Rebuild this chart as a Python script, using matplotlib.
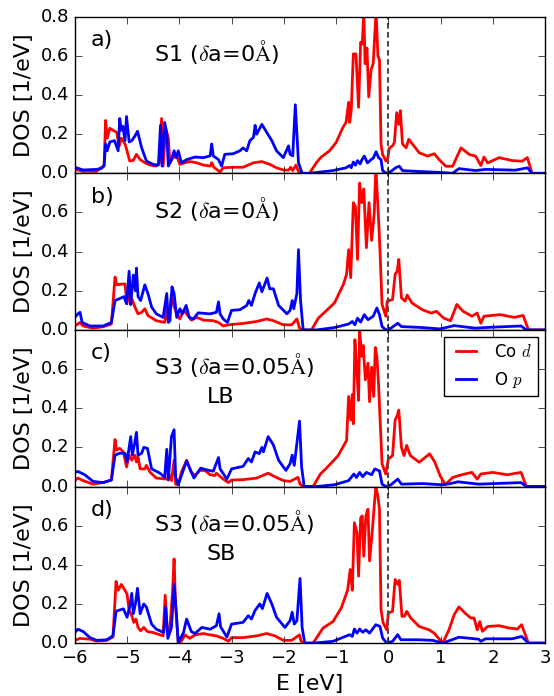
import matplotlib
matplotlib.use("Agg")
import matplotlib.pyplot as plt

# Projected DOS (energy in eV, DOS in 1/eV)

# a) S1
e_co_a = [-6.0, -5.84, -5.585, -5.49, -5.44, -5.41, -5.38, -5.33, -5.27, -5.2, -5.15, -5.11, -5.04, -5.0,
          -4.95, -4.88, -4.82, -4.75, -4.66, -4.56, -4.44, -4.38, -4.34, -4.31, -4.26, -4.21, -4.18, -4.12,
          -4.05, -3.99, -3.89, -3.8, -3.67, -3.54, -3.41, -3.38, -3.34, -3.22, -3.16, -2.97, -2.78, -2.58,
          -2.42, -2.26, -2.14, -2.01, -1.91, -1.87, -1.83, -1.77, -1.72, -1.63, -1.51, -1.38, -1.285, -1.13,
          -1.0, -0.87, -0.81, -0.76, -0.74, -0.71, -0.67, -0.62, -0.57, -0.53, -0.5, -0.47, -0.445, -0.41,
          -0.375, -0.33, -0.29, -0.235, -0.2, -0.17, -0.14, -0.11, -0.045, -0.01, 0.02, 0.08, 0.115, 0.16,
          0.2, 0.23, 0.27, 0.34, 0.39, 0.46, 0.59, 0.75, 0.88, 0.97, 1.1, 1.23, 1.39, 1.55, 1.67, 1.77,
          1.83, 1.9, 2.12, 2.37, 2.56, 2.66, 2.75, 3.0]
co_a = [0.02, 0.01, 0.01, 0.03, 0.04, 0.27, 0.18, 0.23, 0.22, 0.21, 0.14, 0.18, 0.15, 0.115,
        0.063, 0.066, 0.097, 0.07, 0.054, 0.042, 0.037, 0.054, 0.28, 0.037, 0.23, 0.18, 0.054, 0.08,
        0.089, 0.045, 0.054, 0.06, 0.054, 0.042, 0.037, 0.054, 0.031, 0.007, 0.028, 0.031, 0.031, 0.054,
        0.06, 0.045, 0.028, 0.017, 0.016, 0.031, 0.014, 0.042, 0.01, 0.0, 0.0, 0.053, 0.083, 0.114,
        0.157, 0.234, 0.26, 0.363, 0.26, 0.32, 0.61, 0.61, 0.337, 0.67, 0.66, 0.82, 0.56, 0.64,
        0.39, 0.53, 0.56, 0.83, 0.6, 0.58, 0.15, 0.096, 0.062, 0.08, 0.13, 0.14, 0.157, 0.31,
        0.25, 0.32, 0.15, 0.13, 0.174, 0.15, 0.105, 0.088, 0.1, 0.07, 0.036, 0.036, 0.13, 0.096, 0.088, 0.04,
        0.083, 0.053, 0.08, 0.065, 0.062, 0.08, 0.0, 0.0]
e_o_a = [-6.0, -5.84, -5.585, -5.49, -5.44, -5.41, -5.38, -5.33, -5.24, -5.17, -5.14, -5.11, -5.08, -5.04,
         -5.01, -4.96, -4.91, -4.85, -4.8, -4.72, -4.63, -4.5, -4.4, -4.36, -4.33, -4.28, -4.24, -4.21,
         -4.15, -4.1, -4.06, -4.02, -3.96, -3.86, -3.7, -3.54, -3.41, -3.38, -3.35, -3.25, -3.19, -3.13,
         -2.97, -2.84, -2.78, -2.71, -2.65, -2.58, -2.55, -2.52, -2.42, -2.33, -2.23, -2.14, -2.01, -1.91,
         -1.88, -1.83, -1.78, -1.72, -1.65, -1.51, -1.06, -0.81, -0.74, -0.71, -0.67, -0.63, -0.59, -0.54,
         -0.505, -0.46, -0.4, -0.33, -0.285, -0.235, -0.185, -0.14, -0.11, -0.045, 0.05, 0.15, 0.21, 0.27,
         0.53, 0.97, 1.23, 1.35, 1.67, 1.86, 2.43, 2.66, 2.75, 3.0]
o_a = [0.031, 0.017, 0.02, 0.025, 0.037, 0.15, 0.115, 0.16, 0.167, 0.115, 0.28, 0.22, 0.24, 0.167,
       0.29, 0.16, 0.167, 0.19, 0.215, 0.13, 0.063, 0.045, 0.042, 0.245, 0.037, 0.26, 0.2, 0.037,
       0.07, 0.115, 0.08, 0.115, 0.054, 0.07, 0.083, 0.08, 0.089, 0.15, 0.089, 0.07, 0.037, 0.097,
       0.1, 0.115, 0.13, 0.115, 0.167, 0.184, 0.245, 0.2, 0.25, 0.21, 0.167, 0.115, 0.08, 0.14,
       0.097, 0.089, 0.35, 0.054, 0.0, 0.0, 0.014, 0.028, 0.04, 0.028, 0.058, 0.041, 0.065, 0.048,
       0.07, 0.088, 0.053, 0.07, 0.079, 0.11, 0.079, 0.07, 0.014, 0.0, 0.01, 0.03, 0.036, 0.014,
       0.01, 0.005, 0.0, 0.024, 0.014, 0.02, 0.016, 0.028, 0.0, 0.0]

# b) S2
e_co_b = [-6.0, -5.9, -5.84, -5.65, -5.46, -5.3, -5.23, -5.2, -5.14, -5.04, -5.0, -4.97, -4.93, -4.91,
          -4.85, -4.79, -4.72, -4.66, -4.6, -4.44, -4.28, -4.24, -4.21, -4.15, -4.12, -4.05, -3.99, -3.92,
          -3.86, -3.77, -3.67, -3.54, -3.35, -3.25, -3.16, -3.06, -2.78, -2.52, -2.33, -2.2, -2.01, -1.85,
          -1.75, -1.7, -1.64, -1.47, -1.34, -1.2, -1.03, -0.86, -0.8, -0.76, -0.72, -0.67, -0.63, -0.59,
          -0.55, -0.51, -0.47, -0.42, -0.37, -0.32, -0.27, -0.24, -0.2, -0.17, -0.12, -0.05, -0.02, 0.08,
          0.13, 0.17, 0.2, 0.25, 0.32, 0.36, 0.45, 0.65, 0.82, 0.92, 1.06, 1.19, 1.31, 1.43, 1.6, 1.7,
          1.77, 1.83, 2.14, 2.41, 2.58, 2.68, 3.0]
co_b = [0.02, 0.038, 0.02, 0.009, 0.016, 0.03, 0.27, 0.23, 0.233, 0.235, 0.134, 0.2, 0.13, 0.16,
        0.117, 0.082, 0.09, 0.108, 0.073, 0.047, 0.038, 0.108, 0.045, 0.177, 0.134, 0.082, 0.056, 0.1,
        0.082, 0.05, 0.064, 0.05, 0.047, 0.038, 0.02, 0.026, 0.033, 0.043, 0.056, 0.047, 0.026, 0.026,
        0.056, 0.009, 0.0, 0.0, 0.06, 0.095, 0.138, 0.233, 0.284, 0.41, 0.267, 0.65, 0.63, 0.36,
        0.75, 0.65, 0.72, 0.42, 0.65, 0.457, 0.595, 0.83, 0.63, 0.47, 0.13, 0.07, 0.147, 0.155,
        0.284, 0.3, 0.36, 0.164, 0.147, 0.178, 0.138, 0.103, 0.086, 0.095, 0.06, 0.047, 0.13, 0.095, 0.07, 0.086,
        0.034, 0.07, 0.078, 0.064, 0.074, 0.0, 0.0]
e_o_b = [-6.0, -5.94, -5.9, -5.86, -5.71, -5.46, -5.3, -5.23, -5.14, -5.06, -5.01, -4.96, -4.93, -4.88,
         -4.84, -4.82, -4.79, -4.74, -4.66, -4.6, -4.53, -4.44, -4.31, -4.24, -4.21, -4.18, -4.14, -4.1,
         -4.05, -3.99, -3.94, -3.87, -3.81, -3.73, -3.64, -3.41, -3.29, -3.25, -3.22, -3.16, -3.08, -3.0,
         -2.84, -2.71, -2.67, -2.62, -2.55, -2.47, -2.42, -2.32, -2.27, -2.2, -2.1, -1.94, -1.88, -1.84,
         -1.81, -1.75, -1.72, -1.68, -1.63, -1.37, -1.03, -0.76, -0.69, -0.64, -0.59, -0.53, -0.46, -0.39,
         -0.29, -0.22, -0.17, -0.12, -0.05, 0.05, 0.18, 0.25, 0.65, 0.99, 1.26, 1.66, 2.0, 2.54, 2.64, 3.0]
o_b = [0.064, 0.082, 0.09, 0.038, 0.02, 0.02, 0.038, 0.15, 0.16, 0.17, 0.134, 0.3, 0.13, 0.28,
       0.2, 0.316, 0.17, 0.15, 0.23, 0.186, 0.117, 0.082, 0.064, 0.186, 0.038, 0.047, 0.22, 0.186,
       0.064, 0.108, 0.082, 0.125, 0.064, 0.056, 0.087, 0.082, 0.09, 0.143, 0.082, 0.056, 0.038, 0.1,
       0.103, 0.125, 0.15, 0.125, 0.186, 0.24, 0.195, 0.265, 0.21, 0.21, 0.125, 0.082, 0.1, 0.15,
       0.108, 0.186, 0.41, 0.15, 0.0, 0.0, 0.012, 0.03, 0.043, 0.026, 0.06, 0.04, 0.078, 0.052,
       0.07, 0.112, 0.078, 0.017, 0.0, 0.009, 0.034, 0.017, 0.012, 0.005, 0.022, 0.009, 0.014, 0.02, 0.0, 0.0]

# c) S3, LB
e_co_c = [-6.0, -5.94, -5.84, -5.65, -5.46, -5.3, -5.23, -5.2, -5.14, -5.07, -5.01, -4.96, -4.91, -4.85,
          -4.82, -4.79, -4.75, -4.66, -4.63, -4.56, -4.44, -4.24, -4.18, -4.15, -4.1, -4.07, -4.02, -3.96,
          -3.86, -3.77, -3.7, -3.61, -3.51, -3.41, -3.32, -3.29, -3.24, -3.16, -3.06, -3.0, -2.78, -2.52,
          -2.3, -2.17, -2.01, -1.88, -1.73, -1.69, -1.63, -1.44, -1.3, -1.17, -0.96, -0.8, -0.76, -0.72,
          -0.69, -0.67, -0.64, -0.61, -0.57, -0.55, -0.51, -0.48, -0.44, -0.39, -0.36, -0.32, -0.28, -0.25,
          -0.22, -0.19, -0.12, -0.05, 0.0, 0.08, 0.13, 0.16, 0.2, 0.25, 0.3, 0.35, 0.42, 0.59, 0.79, 0.89,
          0.99, 1.09, 1.23, 1.4, 1.6, 1.7, 1.77, 2.0, 2.27, 2.54, 2.64, 3.0]
co_c = [0.03, 0.043, 0.03, 0.012, 0.02, 0.033, 0.24, 0.186, 0.195, 0.177, 0.1, 0.16, 0.134, 0.16,
        0.125, 0.15, 0.09, 0.09, 0.108, 0.073, 0.043, 0.038, 0.056, 0.03, 0.134, 0.012, 0.009, 0.073,
        0.134, 0.073, 0.056, 0.082, 0.082, 0.06, 0.056, 0.068, 0.056, 0.038, 0.02, 0.033, 0.035, 0.043,
        0.068, 0.05, 0.03, 0.026, 0.047, 0.012, 0.0, 0.0, 0.064, 0.098, 0.158, 0.235, 0.46, 0.34,
        0.47, 0.32, 0.75, 0.63, 0.44, 0.8, 0.665, 0.72, 0.545, 0.63, 0.433, 0.61, 0.46, 0.71,
        0.665, 0.536, 0.115, 0.064, 0.14, 0.158, 0.34, 0.355, 0.39, 0.2, 0.158, 0.21, 0.158, 0.124, 0.167, 0.124,
        0.055, 0.009, 0.046, 0.06, 0.072, 0.038, 0.064, 0.072, 0.06, 0.072, 0.0, 0.0]
e_o_c = [-6.0, -5.94, -5.81, -5.65, -5.46, -5.3, -5.23, -5.14, -5.04, -5.0, -4.93, -4.9, -4.86, -4.82,
         -4.79, -4.72, -4.68, -4.61, -4.53, -4.37, -4.28, -4.24, -4.21, -4.15, -4.1, -4.07, -4.02, -3.96,
         -3.86, -3.77, -3.72, -3.59, -3.48, -3.35, -3.25, -3.22, -3.09, -3.0, -2.78, -2.68, -2.62, -2.55,
         -2.47, -2.42, -2.39, -2.3, -2.2, -2.1, -1.96, -1.88, -1.84, -1.8, -1.7, -1.66, -1.61, -1.37,
         -1.03, -0.76, -0.66, -0.61, -0.55, -0.49, -0.42, -0.32, -0.26, -0.17, -0.12, -0.05, 0.05, 0.18,
         0.25, 0.65, 1.02, 1.19, 1.33, 1.73, 2.54, 2.64, 3.0]
o_c = [0.073, 0.077, 0.06, 0.026, 0.02, 0.033, 0.16, 0.17, 0.17, 0.125, 0.255, 0.16, 0.212, 0.277,
       0.16, 0.17, 0.2, 0.195, 0.09, 0.068, 0.047, 0.19, 0.033, 0.255, 0.29, 0.047, 0.009, 0.056,
       0.13, 0.073, 0.043, 0.094, 0.085, 0.078, 0.148, 0.09, 0.038, 0.09, 0.103, 0.143, 0.125, 0.177,
       0.168, 0.2, 0.177, 0.255, 0.212, 0.134, 0.082, 0.117, 0.16, 0.108, 0.334, 0.1, 0.0, 0.0,
       0.009, 0.03, 0.064, 0.046, 0.072, 0.05, 0.072, 0.06, 0.09, 0.08, 0.012, 0.0, 0.009, 0.038,
       0.012, 0.015, 0.009, 0.015, 0.024, 0.012, 0.02, 0.0, 0.0]

# d) S3, SB
e_co_d = [-6.0, -5.9, -5.71, -5.58, -5.39, -5.27, -5.21, -5.17, -5.11, -5.04, -5.0, -4.96, -4.91, -4.87,
          -4.83, -4.79, -4.74, -4.68, -4.61, -4.5, -4.31, -4.27, -4.23, -4.18, -4.13, -4.1, -4.07, -4.02,
          -3.96, -3.89, -3.8, -3.7, -3.54, -3.41, -3.29, -3.16, -3.06, -3.0, -2.78, -2.52, -2.33, -2.17,
          -2.01, -1.85, -1.7, -1.67, -1.63, -1.44, -1.25, -1.06, -0.9, -0.78, -0.73, -0.69, -0.65, -0.6,
          -0.57, -0.53, -0.5, -0.47, -0.43, -0.39, -0.36, -0.31, -0.27, -0.24, -0.2, -0.17, -0.14, -0.1,
          -0.03, 0.0, 0.08, 0.13, 0.18, 0.21, 0.26, 0.31, 0.35, 0.43, 0.59, 0.78, 0.88, 1.04, 1.16, 1.26,
          1.35, 1.48, 1.58, 1.64, 1.7, 1.75, 1.8, 1.9, 2.12, 2.31, 2.47, 2.55, 2.68, 3.0]
co_d = [0.014, 0.024, 0.02, 0.01, 0.014, 0.031, 0.315, 0.27, 0.3, 0.27, 0.25, 0.167, 0.14, 0.106,
        0.123, 0.08, 0.063, 0.08, 0.059, 0.054, 0.037, 0.245, 0.06, 0.08, 0.26, 0.43, 0.184, 0.0,
        0.01, 0.042, 0.024, 0.042, 0.049, 0.042, 0.037, 0.024, 0.01, 0.028, 0.028, 0.037, 0.049, 0.037,
        0.014, 0.014, 0.042, 0.01, 0.0, 0.0, 0.077, 0.11, 0.18, 0.27, 0.376, 0.27, 0.615, 0.564,
        0.342, 0.64, 0.65, 0.444, 0.65, 0.684, 0.42, 0.564, 0.7, 0.8, 0.75, 0.684, 0.17, 0.103,
        0.068, 0.154, 0.162, 0.325, 0.3, 0.32, 0.137, 0.137, 0.162, 0.128, 0.085, 0.068, 0.05, 0.0, 0.068, 0.145,
        0.185, 0.15, 0.128, 0.128, 0.068, 0.11, 0.06, 0.085, 0.089, 0.077, 0.072, 0.094, 0.0, 0.0]
e_o_d = [-6.0, -5.94, -5.84, -5.71, -5.58, -5.39, -5.27, -5.21, -5.07, -5.0, -4.95, -4.91, -4.88, -4.84,
         -4.8, -4.75, -4.68, -4.63, -4.53, -4.44, -4.3, -4.26, -4.22, -4.15, -4.1, -4.06, -4.02, -3.92,
         -3.86, -3.77, -3.7, -3.57, -3.41, -3.29, -3.24, -3.21, -3.09, -3.0, -2.78, -2.68, -2.62, -2.55,
         -2.46, -2.41, -2.32, -2.23, -2.14, -1.98, -1.88, -1.84, -1.8, -1.75, -1.69, -1.65, -1.6, -1.44,
         -1.06, -0.74, -0.69, -0.65, -0.6, -0.55, -0.49, -0.43, -0.36, -0.24, -0.16, -0.11, -0.03, 0.08,
         0.18, 0.24, 0.59, 0.85, 1.04, 1.35, 1.73, 1.77, 1.86, 2.37, 2.55, 2.68, 3.0]
o_d = [0.054, 0.071, 0.059, 0.028, 0.014, 0.017, 0.037, 0.163, 0.175, 0.132, 0.184, 0.254, 0.15, 0.2,
       0.28, 0.15, 0.2, 0.184, 0.097, 0.071, 0.054, 0.184, 0.024, 0.08, 0.3, 0.167, 0.0, 0.054,
       0.123, 0.059, 0.049, 0.08, 0.071, 0.089, 0.15, 0.083, 0.031, 0.097, 0.106, 0.14, 0.123, 0.167,
       0.2, 0.176, 0.254, 0.2, 0.132, 0.08, 0.115, 0.158, 0.097, 0.115, 0.33, 0.08, 0.0, 0.0,
       0.009, 0.043, 0.034, 0.072, 0.051, 0.072, 0.055, 0.068, 0.051, 0.094, 0.085, 0.026, 0.0, 0.009,
       0.043, 0.017, 0.017, 0.014, 0.0, 0.03, 0.02, 0.009, 0.022, 0.022, 0.034, 0.0, 0.0]

panel_tags = ["a)", "b)", "c)", "d)"]
panel_titles = [r"S1 ($\delta$a=0$\mathrm{\AA}$)", r"S2 ($\delta$a=0$\mathrm{\AA}$)",
                r"S3 ($\delta$a=0.05$\mathrm{\AA}$)", r"S3 ($\delta$a=0.05$\mathrm{\AA}$)"]
panel_notes = ["", "", "LB", "SB"]
x_ticks = [-6, -5, -4, -3, -2, -1, 0, 1, 2, 3]


def plot_panels():
    plt.style.use("classic")
    plt.rcParams["savefig.facecolor"] = "white"
    fig, axes = plt.subplots(4, 1, sharex=True, figsize=(5.54, 6.96), dpi=100)
    fig.subplots_adjust(left=0.135, right=0.984, top=0.976, bottom=0.076, hspace=0.0)

    data = [(e_co_a, co_a, e_o_a, o_a), (e_co_b, co_b, e_o_b, o_b),
            (e_co_c, co_c, e_o_c, o_c), (e_co_d, co_d, e_o_d, o_d)]

    for i, ax in enumerate(axes):
        e_co, co, e_o, o = data[i]
        ax.plot(e_co, co, color="red", lw=2, label=r"Co $d$")
        ax.plot(e_o, o, color="blue", lw=2, label=r"O $p$")
        ax.axvline(0, color="0.3", lw=1.5, dashes=(4, 2.5))  # рівень Фермі
        ax.set_xlim(-6, 3)
        ax.set_ylim(0, 0.8)
        if i == 0:
            ax.set_yticks([0.0, 0.2, 0.4, 0.6, 0.8])
        else:
            ax.set_yticks([0.0, 0.2, 0.4, 0.6])
        ax.set_ylabel("DOS [1/eV]", fontsize=16)
        ax.tick_params(labelsize=13, length=5)
        ax.text(0.034, 0.85, panel_tags[i], transform=ax.transAxes, fontsize=16, va="center")
        ax.text(0.168, 0.775, panel_titles[i], transform=ax.transAxes, fontsize=16, va="center")
        if panel_notes[i]:
            ax.text(0.28, 0.57, panel_notes[i], transform=ax.transAxes, fontsize=16, va="center")

    axes[2].legend(loc="upper right", fontsize=12, handlelength=1.8, borderaxespad=0.4)
    axes[-1].set_xticks(x_ticks)
    axes[-1].set_xlabel("E [eV]", fontsize=16)
    fig.align_ylabels(axes)

    fig.savefig("out.png", dpi=100)


if __name__ == "__main__":
    plot_panels()
